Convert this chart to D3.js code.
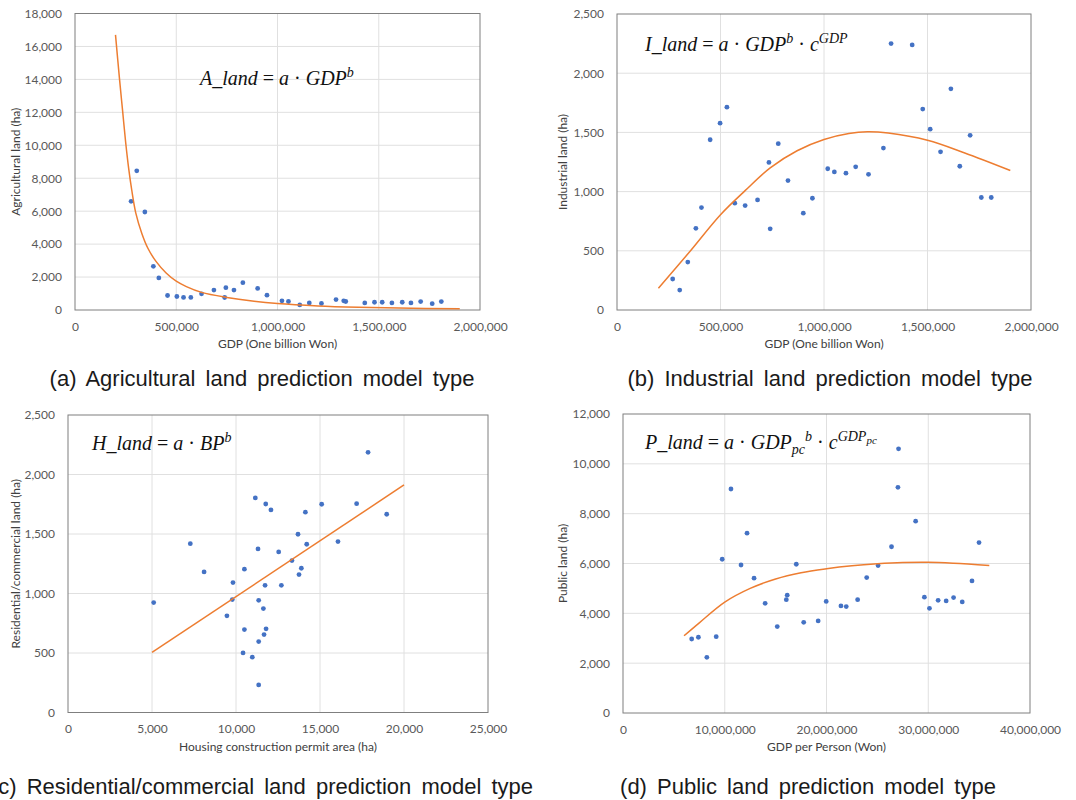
<!DOCTYPE html>
<html>
<head>
<meta charset="utf-8">
<script src="https://cdn.jsdelivr.net/npm/d3@7"></script>
<style>
    body { margin: 0; background: #fff; }
    svg { display: block; }
    .tick text { font-family: Lato, "Open Sans", sans-serif; font-size: 12px; fill: #595959; }
    .axis-title { font-family: Lato, "Open Sans", sans-serif; font-size: 12px; fill: #404040; }
    .formula { font-family: "Liberation Serif", "DejaVu Serif", serif; font-size: 20px; fill: #111; }
    .caption { font-family: "Liberation Sans", Arial, sans-serif; font-size: 22px; fill: #1a1a1a; word-spacing: 4px; }
</style>
</head>
<body>
<svg id="chart" width="1076" height="800"></svg>
<script>
// (a) Agricultural land vs GDP
const aGdp  = [277000, 305000, 345000, 387000, 414000, 457000, 503000, 536000, 572000, 625000, 686000, 739000, 745000, 785000, 829000, 902000, 948000,
               1022000, 1054000, 1110000, 1157000, 1217000, 1289000, 1327000, 1337000, 1431000, 1479000, 1517000, 1565000, 1616000, 1659000, 1707000, 1764000, 1809000];
const aLand = [6600, 8450, 5950, 2650, 1950, 880, 820, 765, 765, 980, 1210, 760, 1355, 1210, 1660, 1310, 900,
               555, 515, 310, 430, 400, 630, 555, 515, 430, 470, 470, 430, 470, 430, 510, 385, 510];
const aFitGdp  = [200000, 220000, 235000, 250000, 265000, 280000, 300000, 330000, 360000, 400000, 450000, 500000, 550000, 625000, 750000, 875000, 1000000, 1200000, 1400000, 1600000, 1900000];
const aFitLand = [16700, 14000, 12100, 10200, 8600, 7300, 5900, 4650, 3750, 2950, 2250, 1750, 1420, 1070, 760, 540, 390, 250, 170, 120, 70];

// (b) Industrial land vs GDP
const iGdp  = [269000, 303000, 342000, 381000, 408000, 450000, 498000, 531000, 569000, 619000, 679000, 734000, 740000, 779000, 826000, 900000, 944000,
               1018000, 1050000, 1106000, 1153000, 1215000, 1287000, 1324000, 1426000, 1477000, 1513000, 1563000, 1613000, 1656000, 1706000, 1760000, 1808000];
const iLand = [262, 168, 405, 690, 865, 1438, 1578, 1713, 902, 882, 930, 1246, 686, 1405, 1093, 818, 944,
               1193, 1166, 1156, 1209, 1146, 1368, 2250, 2239, 1697, 1527, 1336, 1868, 1214, 1475, 950, 950];
const iFitGdp  = [200000, 350000, 500000, 620000, 740000, 870000, 1000000, 1120000, 1210000, 1310000, 1500000, 1680000, 1900000];
const iFitLand = [183, 490, 805, 1010, 1200, 1345, 1440, 1490, 1505, 1494, 1433, 1326, 1178];

// (c) Residential/commercial land vs housing construction permit area
const hBp   = [5100, 7280, 8100, 9460, 9820, 9780, 10420, 10500, 10500, 10970, 11150, 11310, 11350, 11350, 11350, 11630, 11670,
               11730, 11770, 11790, 12080, 12540, 12700, 13330, 13690, 13750, 13890, 14130, 14210, 15100, 16070, 17180, 17860, 18970];
const hLand = [924, 1419, 1181, 812, 1092, 949, 501, 1204, 697, 465, 1803, 1375, 943, 596, 232, 873, 655,
               1069, 1752, 703, 1702, 1349, 1069, 1277, 1498, 1159, 1212, 1683, 1414, 1750, 1436, 1755, 2186, 1666];
const hFitBp   = [5000, 20000];
const hFitLand = [505, 1912];

// (d) Public land vs GDP per person
const pGdp  = [6750000, 7410000, 8240000, 9160000, 9750000, 10610000, 11600000, 12190000, 12880000, 13970000, 15160000, 16050000, 16140000, 17030000,
               17760000, 19180000, 19970000, 21420000, 21940000, 23060000, 23950000, 25070000, 26390000, 27020000, 27080000, 28760000, 29620000,
               30120000, 30970000, 31760000, 32490000, 33340000, 34300000, 34990000];
const pLand = [2970, 3040, 2235, 3065, 6170, 8990, 5940, 7216, 5410, 4400, 3467, 4550, 4730, 5970,
               3640, 3695, 4478, 4297, 4270, 4550, 5435, 5915, 6672, 9057, 10602, 7700, 4650,
               4203, 4524, 4497, 4632, 4457, 5300, 6840];
const pFitGdp  = [6000000, 7500000, 10000000, 12500000, 15000000, 17500000, 20000000, 22500000, 25000000, 27500000, 30000000, 32500000, 36000000];
const pFitLand = [3100, 3620, 4450, 5000, 5380, 5630, 5790, 5910, 5990, 6040, 6050, 6010, 5920];

// Tick values
const gdpTicks    = [0, 500000, 1000000, 1500000, 2000000];
const aLandTicks  = [0, 2000, 4000, 6000, 8000, 10000, 12000, 14000, 16000, 18000];
const iLandTicks  = [0, 500, 1000, 1500, 2000, 2500];
const bpTicks     = [0, 5000, 10000, 15000, 20000, 25000];
const hLandTicks  = [0, 500, 1000, 1500, 2000, 2500];
const gdpPcTicks  = [0, 10000000, 20000000, 30000000, 40000000];
const pLandTicks  = [0, 2000, 4000, 6000, 8000, 10000, 12000];

const svg = d3.select("#chart");
const fmt = d3.format(",");

// Formula pieces: [text, kind]  kind: "v" italic variable, "o" upright operator, "sup", "sub", "supsub"
function drawFormula(g, x, y, parts) {
    const text = g.append("text").attr("class", "formula").attr("x", x).attr("y", y);
    let level = 0;
    parts.forEach(([t, kind]) => {
        const target = kind === "sup" ? -8 : kind === "sub" ? 5 : kind === "supsub" ? -5 : 0;
        const span = text.append("tspan")
            .attr("dy", target - level)
            .text(t);
        level = target;
        if (kind === "o") span.attr("font-style", "normal");
        else span.attr("font-style", "italic");
        if (kind === "sup" || kind === "sub") span.attr("font-size", "14px");
        if (kind === "supsub") span.attr("font-size", "11px");
    });
}

function drawPanel(p) {
    const g = svg.append("g");
    const x = d3.scaleLinear().domain(d3.extent(p.xTicks)).range([p.left, p.right]);
    const y = d3.scaleLinear().domain(d3.extent(p.yTicks)).range([p.bottom, p.top]);

    // Gridlines
    g.selectAll("line.vgrid").data(p.xTicks.slice(1, -1)).join("line")
        .attr("x1", d => x(d)).attr("x2", d => x(d))
        .attr("y1", p.top).attr("y2", p.bottom)
        .attr("stroke", "#e0e0e0");
    g.selectAll("line.hgrid").data(p.yTicks.slice(1, -1)).join("line")
        .attr("x1", p.left).attr("x2", p.right)
        .attr("y1", d => y(d)).attr("y2", d => y(d))
        .attr("stroke", "#e0e0e0");

    // Plot area border
    g.append("rect")
        .attr("x", p.left).attr("y", p.top)
        .attr("width", p.right - p.left).attr("height", p.bottom - p.top)
        .attr("fill", "none").attr("stroke", "#7f7f7f");

    // Axes (Excel style: labels only)
    const xAxis = g.append("g")
        .attr("transform", `translate(0,${p.bottom})`)
        .call(d3.axisBottom(x).tickValues(p.xTicks).tickFormat(fmt).tickSize(0).tickPadding(12));
    xAxis.select(".domain").remove();

    const yAxis = g.append("g")
        .attr("transform", `translate(${p.left},0)`)
        .call(d3.axisLeft(y).tickValues(p.yTicks).tickFormat(fmt).tickSize(0).tickPadding(13));
    yAxis.select(".domain").remove();

    // Data points
    g.selectAll("circle").data(d3.zip(p.xs, p.ys)).join("circle")
        .attr("cx", d => x(d[0]))
        .attr("cy", d => y(d[1]))
        .attr("r", 2.4)
        .attr("fill", "#4472c4");

    // Fitted model curve
    const line = d3.line()
        .x(d => x(d[0]))
        .y(d => y(d[1]))
        .curve(d3.curveCatmullRom);
    g.append("path")
        .datum(d3.zip(p.fitX, p.fitY))
        .attr("d", line)
        .attr("fill", "none")
        .attr("stroke", "#ed7d31")
        .attr("stroke-width", 1.5);

    // Axis titles
    g.append("text")
        .attr("class", "axis-title")
        .attr("text-anchor", "middle")
        .attr("x", (p.left + p.right) / 2)
        .attr("y", p.bottom + 38)
        .text(p.xTitle);

    g.append("text")
        .attr("class", "axis-title")
        .attr("text-anchor", "middle")
        .attr("transform", `translate(${p.yTitleX},${(p.top + p.bottom) / 2}) rotate(-90)`)
        .text(p.yTitle);

    drawFormula(g, p.fx, p.fy, p.formula);

    // Caption under the panel
    g.append("text")
        .attr("class", "caption")
        .attr("text-anchor", "middle")
        .attr("x", p.capX)
        .attr("y", p.capY)
        .text(p.caption);
}

drawPanel({
    left: 75, right: 480, top: 13.5, bottom: 310,
    xTicks: gdpTicks, yTicks: aLandTicks,
    xs: aGdp, ys: aLand, fitX: aFitGdp, fitY: aFitLand,
    xTitle: "GDP (One billion Won)", yTitle: "Agricultural land (ha)", yTitleX: 20,
    fx: 200, fy: 85,
    formula: [["A_land", "v"], [" = ", "o"], ["a", "v"], [" · ", "o"], ["GDP", "v"], ["b", "sup"]],
    caption: "(a) Agricultural land prediction model type", capX: 262, capY: 386
});

drawPanel({
    left: 617, right: 1031, top: 14, bottom: 310,
    xTicks: gdpTicks, yTicks: iLandTicks,
    xs: iGdp, ys: iLand, fitX: iFitGdp, fitY: iFitLand,
    xTitle: "GDP (One billion Won)", yTitle: "Industrial land (ha)", yTitleX: 567,
    fx: 645, fy: 51,
    formula: [["I_land", "v"], [" = ", "o"], ["a", "v"], [" · ", "o"], ["GDP", "v"], ["b", "sup"], [" · ", "o"], ["c", "v"], ["GDP", "sup"]],
    caption: "(b) Industrial land prediction model type", capX: 830, capY: 386
});

drawPanel({
    left: 68, right: 488, top: 415, bottom: 712.5,
    xTicks: bpTicks, yTicks: hLandTicks,
    xs: hBp, ys: hLand, fitX: hFitBp, fitY: hFitLand,
    xTitle: "Housing construction permit area (ha)", yTitle: "Residential/commercial land (ha)", yTitleX: 20,
    fx: 92, fy: 450,
    formula: [["H_land", "v"], [" = ", "o"], ["a", "v"], [" · ", "o"], ["BP", "v"], ["b", "sup"]],
    caption: "(c) Residential/commercial land prediction model type", capX: 262, capY: 794
});

drawPanel({
    left: 623, right: 1030, top: 414, bottom: 713,
    xTicks: gdpPcTicks, yTicks: pLandTicks,
    xs: pGdp, ys: pLand, fitX: pFitGdp, fitY: pFitLand,
    xTitle: "GDP per Person (Won)", yTitle: "Public land (ha)", yTitleX: 567,
    fx: 645, fy: 449,
    formula: [["P_land", "v"], [" = ", "o"], ["a", "v"], [" · ", "o"], ["GDP", "v"], ["pc", "sub"], ["b", "sup"], [" · ", "o"], ["c", "v"], ["GDP", "sup"], ["pc", "supsub"]],
    caption: "(d) Public land prediction model type", capX: 808, capY: 794
});
</script>
</body>
</html>
